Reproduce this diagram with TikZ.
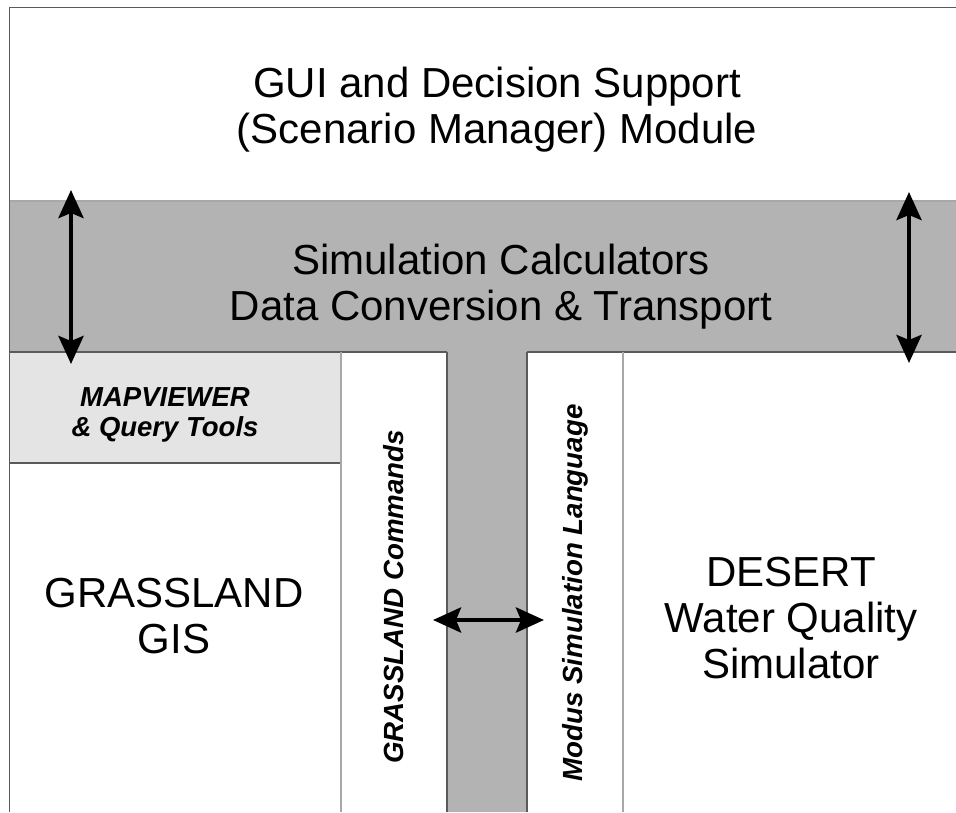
\documentclass[tikz,border=0pt]{standalone}
\usepackage{fontspec}
\setmainfont{Liberation Sans}
\usetikzlibrary{arrows.meta}
\definecolor{bandgray}{HTML}{B3B3B3}
\definecolor{mapgray}{HTML}{E4E4E4}
\definecolor{edgegray}{HTML}{5A5A5A}
\definecolor{lightedge}{HTML}{A8A8A8}
\begin{document}
\begin{tikzpicture}[x=1pt,y=-1pt,
  region/.style={anchor=north west, inner sep=0pt, outer sep=0pt, draw=none},
  frameline/.style={draw=edgegray, line width=1.6pt},
  edgeline/.style={draw=edgegray, line width=1.2pt},
  softline/.style={draw=lightedge, line width=1.2pt},
  bigtext/.style={align=center, inner sep=0pt, font=\fontsize{42}{46}\selectfont},
  smalltext/.style={align=center, inner sep=0pt, font=\fontsize{27.5}{30}\selectfont\bfseries\itshape},
  sidetext/.style={inner sep=0pt, rotate=90, font=\fontsize{27.7}{30}\selectfont\bfseries\itshape},
  dblarrow/.style={{Stealth[length=28pt,width=25pt,inset=5pt]}-{Stealth[length=28pt,width=25pt,inset=5pt]}, line width=4.5pt, black}
]
\useasboundingbox[fill=white] (0,0) rectangle (956,812);

% regions
\node[region, fill=white, minimum width=946.5pt, minimum height=193.5pt] (top) at (9.5,7.5) {};
\node[region, fill=bandgray, minimum width=946.5pt, minimum height=151pt] (band) at (9.5,201) {};
\node[region, fill=mapgray, minimum width=331.5pt, minimum height=111pt] (map) at (9.5,352) {};
\node[region, fill=white, minimum width=331.5pt, minimum height=349pt] (gis) at (9.5,463) {};
\node[region, fill=white, minimum width=106pt, minimum height=460pt] (gcmd) at (341,352) {};
\node[region, fill=bandgray, minimum width=80pt, minimum height=460pt] (stem) at (447,352) {};
\node[region, fill=white, minimum width=96pt, minimum height=460pt] (modus) at (527,352) {};
\node[region, fill=white, minimum width=333pt, minimum height=460pt] (desert) at (623,352) {};

% outlines
\draw[softline] (band.north west) -- (band.north east);
\draw[edgeline] (band.south west) -- (stem.north west);
\draw[edgeline] (stem.north east) -- (band.south east);
\draw[edgeline] (map.south west) -- (map.south east);
\draw[softline] (gcmd.north west) -- (gcmd.south west);
\draw[edgeline] (stem.north west) -- (stem.south west);
\draw[edgeline] (stem.north east) -- (stem.south east);
\draw[softline] (modus.north east) -- (modus.south east);
\draw[frameline] (gis.south west) -- (top.north west) -- (top.north east);

% texts
\node[bigtext] (titletext) at (497,110) {GUI and Decision Support\\(Scenario Manager) Module};
\node[bigtext] (bandtext) at (501,287) {Simulation Calculators\\Data Conversion \& Transport};
\node[bigtext] (gistext) at (174,616) {GRASSLAND\\GIS};
\node[bigtext] (deserttext) at (791,618) {DESERT\\Water Quality\\Simulator};
\node[smalltext] (maptext) at (165,415) {MAPVIEWER\\\& Query Tools};
\node[sidetext] (gcmdtext) at (394,597) {GRASSLAND Commands};
\node[sidetext] (modustext) at (575,593) {Modus Simulation Language};

% arrows
\coordinate (la1) at (71,190);
\coordinate (la2) at (71,364);
\coordinate (ra1) at (909,192);
\coordinate (ra2) at (909,363);
\coordinate (ha1) at (433,620);
\coordinate (ha2) at (544,620);
\draw[dblarrow] (la1) -- (la2);
\draw[dblarrow] (ra1) -- (ra2);
\draw[dblarrow] (ha1) -- (ha2);
\end{tikzpicture}
\end{document}
